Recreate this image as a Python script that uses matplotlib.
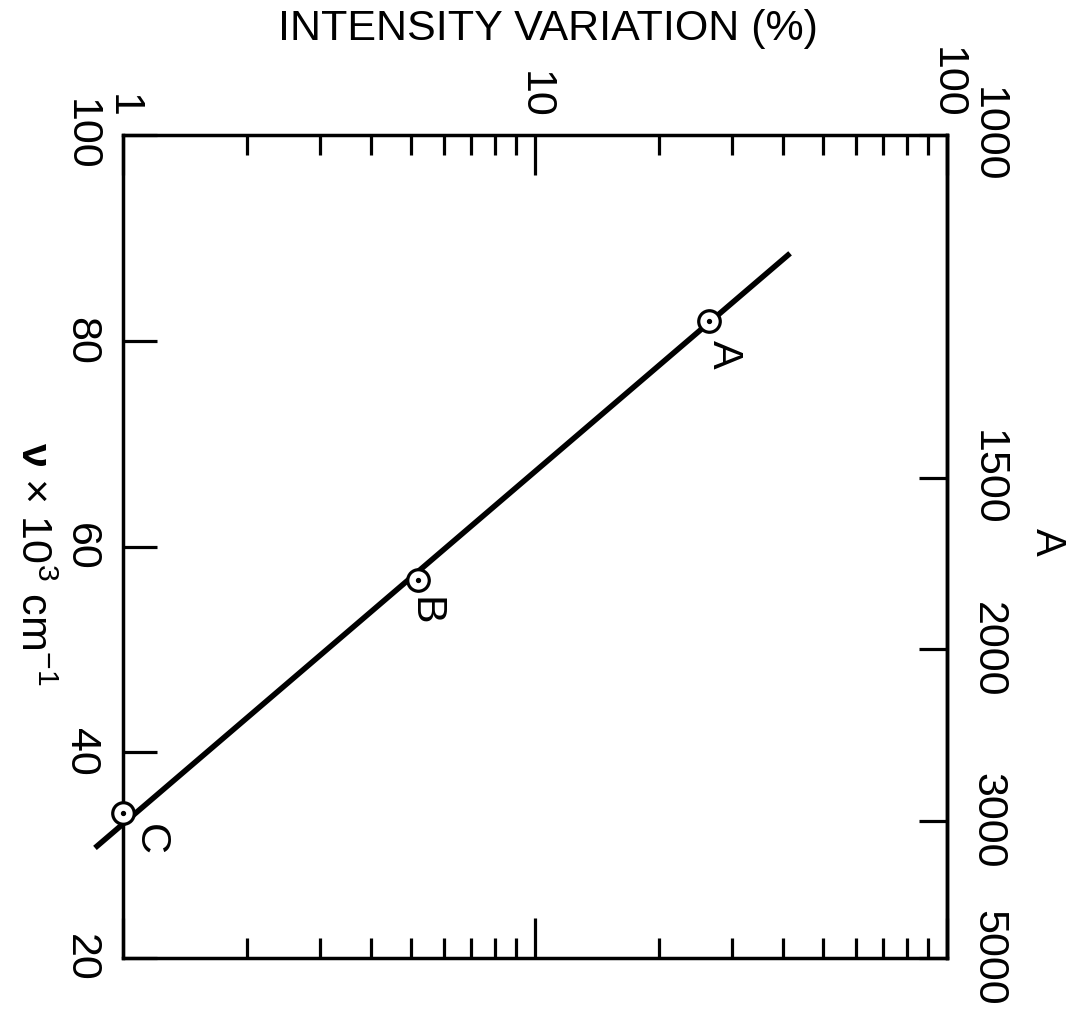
import numpy as np
import matplotlib
matplotlib.use("Agg")
import matplotlib.pyplot as plt

plt.rcParams['font.family'] = ['Liberation Sans', 'DejaVu Sans']
plt.rcParams['mathtext.fontset'] = 'custom'
plt.rcParams['mathtext.rm'] = 'Liberation Sans'
plt.rcParams['mathtext.bf'] = 'Liberation Sans:bold'

# measured points (intensity variation %, wavenumber x 10^3 cm^-1)
point_names = ['A', 'B', 'C']
point_int = [26.4, 5.2, 1.0]
point_nu = [81.9, 56.7, 34.1]

# fitted straight line, end points
line_int = [0.855, 41.6]
line_nu = [30.7, 88.5]

nu_ticks = [20, 40, 60, 80, 100]
int_ticks = [1, 10, 100]
int_ticklabels = ['1', '10', '100']
wl_ticks = [1000, 1500, 2000, 3000, 5000]

# label offsets in points
label_offsets = {'A': (11, -24), 'B': (5, -22), 'C': (19, -19)}

fig = plt.figure(figsize=(10.77, 10.16), dpi=100)
ax = fig.add_axes([0.1142, 0.0571, 0.7651, 0.81])

ax.plot(line_int, line_nu, color='black', lw=4.0, solid_capstyle='butt', clip_on=False, zorder=3)
ax.plot(point_int, point_nu, 'o', ms=15.5, mfc='white', mec='black', mew=2.3, clip_on=False, zorder=4)
ax.plot(point_int, point_nu, 'o', ms=2.8, color='black', clip_on=False, zorder=5)

for name, xi, yi in zip(point_names, point_int, point_nu):
    ax.annotate(name, (xi, yi), xytext=label_offsets[name], textcoords='offset points',
                ha='center', va='center', rotation=-90, fontsize=31)

ax.set_xscale('log')
ax.set_xlim(1, 100)
ax.set_ylim(20, 100)

for s in ax.spines.values():
    s.set_linewidth(2.5)

# intensity axis: labels on top, ticks on both sides
ax.set_xticks(int_ticks)
ax.set_xticklabels(int_ticklabels, rotation=-90)
ax.xaxis.set_minor_locator(matplotlib.ticker.LogLocator(base=10, subs=np.arange(2, 10)))
ax.xaxis.set_minor_formatter(matplotlib.ticker.NullFormatter())
ax.tick_params(axis='x', which='major', direction='in', top=True, bottom=True,
               labeltop=True, labelbottom=False, length=29, width=2.3, pad=12, labelsize=31)
ax.tick_params(axis='x', which='minor', direction='in', top=True, bottom=True,
               length=14.4, width=2.3)

# wavenumber axis on left
ax.set_yticks(nu_ticks)
ax.set_yticklabels([str(v) for v in nu_ticks], rotation=-90, va='center')
ax.tick_params(axis='y', direction='in', left=True, right=False, length=24.5, width=2.3,
               pad=16, labelsize=31)


def nu_to_wl(v):
    v = np.asarray(v, dtype=float)
    return 1e5 / np.where(v == 0, 1e-9, v)


sec = ax.secondary_yaxis('right', functions=(nu_to_wl, nu_to_wl))
sec.set_yticks(wl_ticks)
sec.set_yticklabels([str(v) for v in wl_ticks], rotation=-90, va='center')
sec.yaxis.set_minor_locator(matplotlib.ticker.NullLocator())
sec.tick_params(direction='in', length=20, width=2.3, pad=15, labelsize=31)
sec.spines['right'].set_linewidth(2.5)

fig.text(548 / 1077, 1 - 29 / 1016, 'INTENSITY VARIATION (%)', ha='center', va='center', fontsize=31)
fig.text(1047 / 1077, 1 - 542 / 1016, 'A', ha='center', va='center', rotation=-90, fontsize=30)
fig.text(32 / 1077, 1 - 564 / 1016, r'$\mathbf{\nu}$' + ' × 10$^3$ cm$^{-1}$',
         ha='center', va='center', rotation=-90, fontsize=31)

fig.savefig('out.png', dpi=100)
